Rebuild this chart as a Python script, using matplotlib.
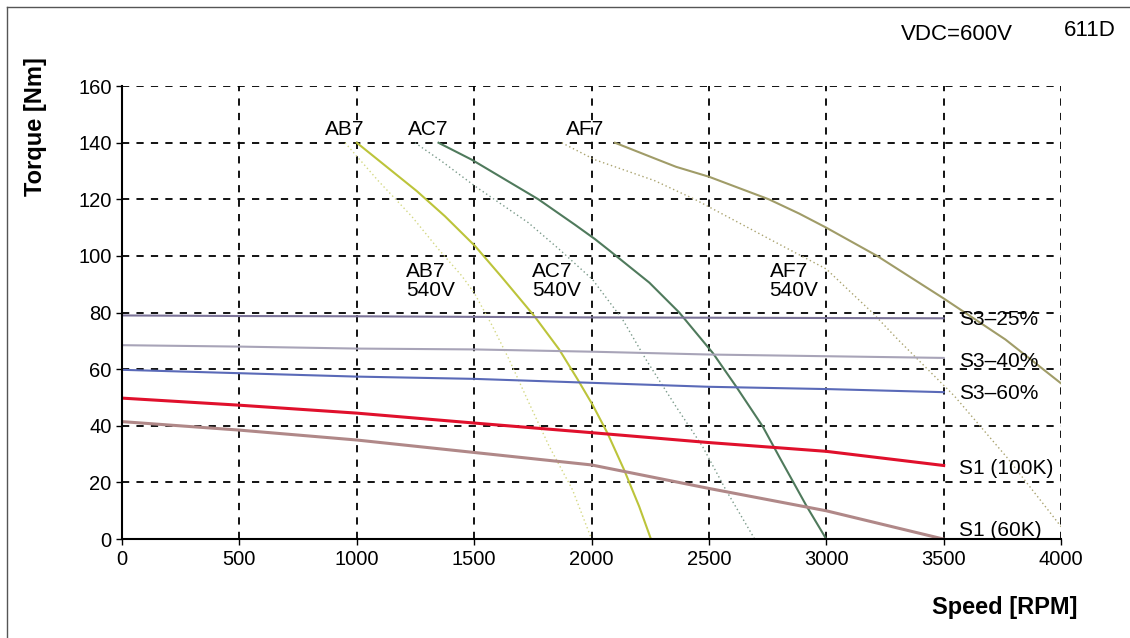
import matplotlib
matplotlib.use("Agg")
import matplotlib.pyplot as plt
from matplotlib.lines import Line2D

plt.rcParams['font.family'] = ['Liberation Sans', 'DejaVu Sans']

# torque-speed curves (speed rpm, torque Nm)
ab7_600_x = [1000, 1256, 1376, 1504, 1618, 1756, 1862, 1940, 2004, 2068, 2139, 2203, 2253]
ab7_600_y = [140, 122.9, 114, 103.5, 92.5, 78.8, 67, 56.5, 47.5, 37.4, 24.4, 11.5, 0]
ab7_540_x = [950, 1092, 1234, 1348, 1447, 1500, 1578, 1649, 1734, 1820, 1919, 2000]
ab7_540_y = [140, 126.5, 114, 102.4, 93, 87, 75.2, 63.4, 48, 32.7, 17.4, 0]

ac7_600_x = [1348, 1490, 1774, 1930, 2014, 2075, 2246, 2374, 2516, 2615, 2729, 2800, 2917, 3000]
ac7_600_y = [140, 134, 120, 111, 106, 102, 90.6, 80, 65.8, 54, 39.8, 29, 11.5, 0]
ac7_540_x = [1248, 1361, 1503, 1730, 1862, 2004, 2132, 2232, 2359, 2473, 2572, 2695]
ac7_540_y = [140, 133.5, 124.7, 111.8, 102.4, 91.7, 77.6, 63.4, 46.9, 32.7, 17.4, 0]

af7_600_x = [2100, 2283, 2360, 2500, 2756, 2884, 3000, 3217, 3500, 3763, 4000]
af7_600_y = [140, 134, 131.5, 128, 120, 115, 110, 100, 85, 70.5, 55]
af7_540_x = [1873, 2014, 2269, 2440, 2812, 3000, 3196, 3305, 3546, 3768, 4000]
af7_540_y = [140, 134, 126.6, 120, 103.6, 95.4, 80, 70.5, 50.5, 29, 4.4]

lim_x = [0, 500, 1000, 1500, 2000, 2500, 3000, 3500]
s3_25 = [79, 78.8, 78.7, 78.5, 78.3, 78.2, 78.1, 78]
s3_40 = [68.5, 68, 67.3, 67, 66.2, 65.2, 64.6, 64]
s3_60 = [59.8, 58.6, 57.4, 56.6, 55.2, 53.8, 53, 51.9]
s1_100 = [49.8, 47.3, 44.5, 41, 37.6, 34.1, 31, 26]
s1_60 = [41.5, 38.5, 35, 30.6, 26.2, 17.9, 10, 0]

x_ticks = [0, 500, 1000, 1500, 2000, 2500, 3000, 3500, 4000]
y_ticks = [0, 20, 40, 60, 80, 100, 120, 140, 160]

fig = plt.figure(figsize=(11.3, 6.38), dpi=100)
ax = fig.add_axes([0.108, 0.155, 0.831, 0.710])

dot = (0, (1, 2))
ax.plot(ab7_540_x, ab7_540_y, color='#d4d884', lw=1, ls=dot)
ax.plot(ac7_540_x, ac7_540_y, color='#7a9a8a', lw=1, ls=dot)
ax.plot(af7_540_x, af7_540_y, color='#aaa470', lw=1, ls=dot)

ax.plot(ab7_600_x, ab7_600_y, color='#bcc43a', lw=1.5)
ax.plot(ac7_600_x, ac7_600_y, color='#4f7a5c', lw=1.5)
ax.plot(af7_600_x, af7_600_y, color='#a09c68', lw=1.5)

ax.plot(lim_x, s3_25, color='#7b7398', lw=1.5)
ax.plot(lim_x, s3_40, color='#a8a4b8', lw=1.5)
ax.plot(lim_x, s3_60, color='#5a6ab8', lw=1.5)
ax.plot(lim_x, s1_100, color='#e0102c', lw=2.2)
ax.plot(lim_x, s1_60, color='#b08888', lw=2.2)

ax.set_xlim(0, 4000)
ax.set_ylim(0, 160)
ax.set_xticks(x_ticks)
ax.set_yticks(y_ticks)
ax.tick_params(labelsize=14.5, length=4, width=1, direction='out')
ax.grid(True, color='black', ls=(0, (4, 4)), lw=1.3)
for s in ['top', 'right']:
    ax.spines[s].set_visible(False)
for s in ['left', 'bottom']:
    ax.spines[s].set_linewidth(1.5)

fs = 15
ax.text(948, 141.5, 'AB7', fontsize=fs, ha='center', va='bottom')
ax.text(1304, 141.5, 'AC7', fontsize=fs, ha='center', va='bottom')
ax.text(1973, 141.5, 'AF7', fontsize=fs, ha='center', va='bottom')
ax.text(1210, 98, 'AB7\n540V', fontsize=fs, ha='left', va='top', linespacing=1.0)
ax.text(1746, 98, 'AC7\n540V', fontsize=fs, ha='left', va='top', linespacing=1.0)
ax.text(2758, 98, 'AF7\n540V', fontsize=fs, ha='left', va='top', linespacing=1.0)

ax.text(3565, 77.4, 'S3\u201325%', fontsize=fs, va='center')
ax.text(3565, 62.7, 'S3\u201340%', fontsize=fs, va='center')
ax.text(3565, 51.6, 'S3\u201360%', fontsize=fs, va='center')
ax.text(3565, 25, 'S1 (100K)', fontsize=fs, va='center')
ax.text(3565, 3.2, 'S1 (60K)', fontsize=fs, va='center')

ax.set_ylabel('Torque [Nm]', fontsize=17, fontweight='bold')
ax.yaxis.set_label_coords(-0.08, 0.91)
ax.set_xlabel('Speed [RPM]', fontsize=17, fontweight='bold')
ax.xaxis.set_label_coords(0.94, -0.125)

fig.text(957 / 1130, 1 - 34 / 638, 'VDC=600V', fontsize=16, ha='center', va='center')
fig.text(1090 / 1130, 1 - 31 / 638, '611D', fontsize=16, ha='center', va='center')

# outer frame (top and left edge visible)
fig.add_artist(Line2D([7 / 1130, 1], [1 - 7 / 638, 1 - 7 / 638], color='#555555', lw=1))
fig.add_artist(Line2D([7 / 1130, 7 / 1130], [0, 1 - 7 / 638], color='#555555', lw=1))

fig.savefig('out.png', dpi=100)
